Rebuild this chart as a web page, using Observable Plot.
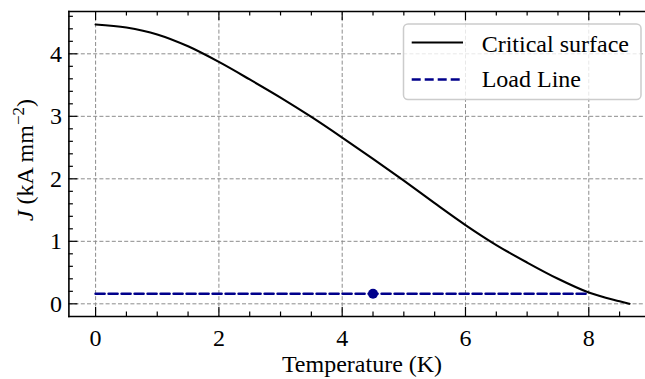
<!DOCTYPE html>
<html><head><meta charset="utf-8">
<script src="https://cdn.jsdelivr.net/npm/d3@7"></script>
<script src="https://cdn.jsdelivr.net/npm/@observablehq/plot@0.6"></script>
<style>
body{margin:0;background:#fff;}
svg{display:block;}
svg text{font-family:"Liberation Serif","DejaVu Serif",serif !important;}
</style>
</head><body><div id="chart"></div>
<script>
// Critical surface J(T)
const temperature = [0, 0.5, 1, 1.5, 2, 2.5, 3, 3.5, 4, 4.5, 5, 5.5, 6, 6.5, 7, 7.5, 8, 8.5, 8.66];
const criticalJ   = [4.47, 4.42, 4.31, 4.12, 3.87, 3.59, 3.30, 2.99, 2.66, 2.32, 1.97, 1.61, 1.26, 0.94, 0.66, 0.40, 0.18, 0.04, 0.0];
// Load line
const loadT = [0, 8];
const loadJ = [0.16, 0.16];
// Operating point
const pointT = [4.5];
const pointJ = [0.16];
// Ticks
const xMajor = [0, 2, 4, 6, 8];
const xMinor = [0.5, 1, 1.5, 2.5, 3, 3.5, 4.5, 5, 5.5, 6.5, 7, 7.5, 8.5];
const yMajor = [0, 1, 2, 3, 4];
const yMinor = [0.2, 0.4, 0.6, 0.8, 1.2, 1.4, 1.6, 1.8, 2.2, 2.4, 2.6, 2.8, 3.2, 3.4, 3.6, 3.8, 4.2, 4.4, 4.6];
const xTickLabels = ["0", "2", "4", "6", "8"];
const yTickLabels = ["0", "1", "2", "3", "4"];
const xDomain = [-0.433, 8.92];
const yDomain = [-0.203, 4.677];

const critical = temperature.map((t, i) => ({t, j: criticalJ[i]}));
const load = loadT.map((t, i) => ({t, j: loadJ[i]}));
const pts = pointT.map((t, i) => ({t, j: pointJ[i]}));

const W = 645, H = 379, mt = 11, mb = 63, ml = 68.4, mr = 0;
const pH = H - mt - mb, pW = W - ml - mr;
const navy = "#00008b";
const font = "Liberation Serif";
const grid = {stroke: "#8c8c8c", strokeWidth: 1, strokeDasharray: "4,2.2"};
const tk = {stroke: "black", strokeWidth: 1.2};

const svg = Plot.plot({
  width: W, height: H,
  marginTop: mt, marginBottom: mb, marginLeft: ml, marginRight: mr,
  style: {fontFamily: font, fontSize: "24px", background: "white", color: "black", overflow: "visible"},
  x: {domain: xDomain},
  y: {domain: yDomain},
  marks: [
    Plot.ruleX(xMajor, grid),
    Plot.ruleY(yMajor, grid),
    Plot.line(critical, {x: "t", y: "j", stroke: "black", strokeWidth: 2.1, curve: "monotone-x"}),
    Plot.line(load, {x: "t", y: "j", stroke: navy, strokeWidth: 2.6, strokeDasharray: "9,4"}),
    Plot.dot(pts, {x: "t", y: "j", r: 5, fill: navy, stroke: "none"}),
    // inward ticks
    Plot.ruleX(xMajor, {...tk, insetTop: pH - 9}),
    Plot.ruleX(xMinor, {...tk, insetTop: pH - 4.5}),
    Plot.ruleX(xMajor, {...tk, insetBottom: pH - 9}),
    Plot.ruleX(xMinor, {...tk, insetBottom: pH - 4.5}),
    Plot.ruleY(yMajor, {...tk, insetRight: pW - 9}),
    Plot.ruleY(yMinor, {...tk, insetRight: pW - 4.5}),
    // spines
    Plot.frame({anchor: "left", stroke: "black", strokeWidth: 1.6}),
    Plot.frame({anchor: "top", stroke: "black", strokeWidth: 1.6}),
    Plot.frame({anchor: "bottom", stroke: "black", strokeWidth: 1.6}),
    Plot.axisX(xMajor, {tickSize: 0, tickPadding: 12, tickFormat: (d, i) => xTickLabels[i], label: null, fontSize: 24, fontFamily: font}),
    Plot.axisY(yMajor, {tickSize: 0, tickPadding: 7, tickFormat: (d, i) => yTickLabels[i], label: null, fontSize: 24, fontFamily: font})
  ]
});

const s = d3.select(svg);
function txt(sel) {
  return sel.attr("font-family", font).attr("font-size", 24).attr("fill", "black");
}
// x label
txt(s.append("text")).attr("x", 362).attr("y", 372).attr("text-anchor", "middle").text("Temperature (K)");
// y label
const yl = txt(s.append("text")).attr("transform", "translate(33,160) rotate(-90)").attr("text-anchor", "middle");
yl.append("tspan").attr("font-style", "italic").text("J");
yl.append("tspan").text(" (kA mm");
yl.append("tspan").attr("font-size", 17).attr("dy", -9).text("\u22122");
yl.append("tspan").attr("dy", 9).text(")");
// legend
const lg = s.append("g");
lg.append("rect").attr("x", 403.5).attr("y", 24).attr("width", 237.5).attr("height", 75.5).attr("rx", 4.5)
  .attr("fill", "white").attr("fill-opacity", 0.8).attr("stroke", "#cccccc").attr("stroke-width", 1.5);
lg.append("line").attr("x1", 411.7).attr("x2", 463).attr("y1", 42.5).attr("y2", 42.5)
  .attr("stroke", "black").attr("stroke-width", 2.1);
lg.append("line").attr("x1", 411.7).attr("x2", 463).attr("y1", 79.5).attr("y2", 79.5)
  .attr("stroke", navy).attr("stroke-width", 2.6).attr("stroke-dasharray", "9,4");
txt(lg.append("text")).attr("x", 481.7).attr("y", 51.5).attr("text-anchor", "start").text("Critical surface");
txt(lg.append("text")).attr("x", 481.7).attr("y", 86.7).attr("text-anchor", "start").text("Load Line");

document.getElementById("chart").appendChild(svg);
</script>
</body></html>
